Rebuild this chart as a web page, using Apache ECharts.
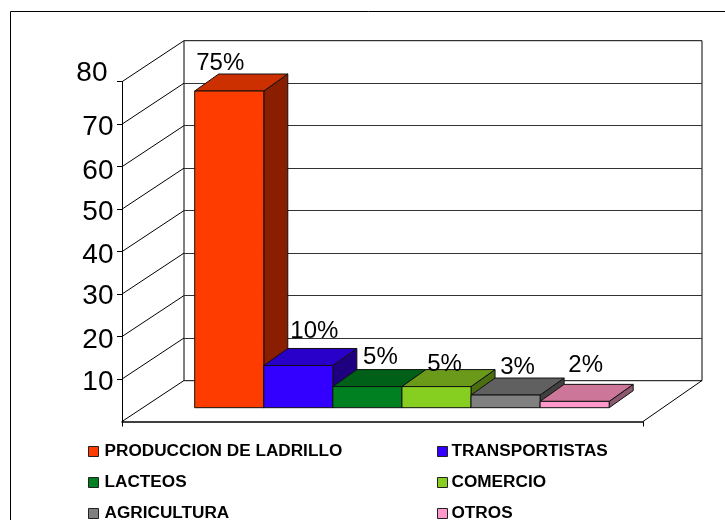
<!DOCTYPE html>
<html><head><meta charset="utf-8">
<style>html,body{margin:0;padding:0;background:#fff}#c{width:725px;height:520px}</style>
<script src="https://cdn.jsdelivr.net/npm/echarts@6/dist/echarts.min.js"></script>
</head><body><div id="c"></div>
<script>
const categories = ['PRODUCCION DE LADRILLO','TRANSPORTISTAS','LACTEOS','COMERCIO','AGRICULTURA','OTROS'];
const values = [75,10,5,5,3,1.5];
const valueLabels = ['75%','10%','5%','5%','3%','2%'];
const yTicks = [0,10,20,30,40,50,60,70,80];
const faceColors = ['#FF3C00','#3300FF','#008020','#86CE20','#808080','#FF99CC'];
const topColors = ['#CC3000','#2900C9','#006018','#6B9A1A','#606060','#CC7799'];
const sideColors = ['#8A1E00','#1F0080','#004010','#4A6E10','#404040','#8B5A70'];
// small per-label shifts of the value labels relative to the bar top
const nudge = [[-9,-28],[16,-34],[13,-29],[8,-22],[12,-28],[11,-36]];
// per-tick shift of axis labels (bottom padding lifts, top padding lowers)
const tickShift = {80:8,70:-3.5,60:-4.5,50:-3.5,40:-4,30:-2.5,20:-4,10:-3.5};

const WALL = [62,-41], BAR = [24,-17];
const FONT = '"Liberation Sans", Arial, sans-serif';

const barSeries = categories.map((name,i)=>({
  type:'custom', name, xAxisIndex:2, yAxisIndex:2, coordinateSystem:'cartesian2d', z:5,
  itemStyle:{color:faceColors[i]},
  data:[[i,values[i]]],
  renderItem:(p,api)=>{
    const top=api.coord([i,values[i]]), base=api.coord([i,0]), w=api.size([1,0])[0];
    const x0=top[0]-w/2, x1=top[0]+w/2, y0=top[1], y1=base[1];
    const st=c=>({fill:c,stroke:'#111',lineWidth:1});
    const poly=(pts,c)=>({type:'polygon',shape:{points:pts},style:st(c)});
    return {type:'group',children:[
      poly([[x1,y0],[x1+BAR[0],y0+BAR[1]],[x1+BAR[0],y1+BAR[1]],[x1,y1]],sideColors[i]),
      poly([[x0,y0],[x0+BAR[0],y0+BAR[1]],[x1+BAR[0],y0+BAR[1]],[x1,y0]],topColors[i]),
      poly([[x0,y0],[x1,y0],[x1,y1],[x0,y1]],faceColors[i]),
      {type:'text',x:top[0]+nudge[i][0],y:y0+nudge[i][1],
       style:{text:valueLabels[i],font:'24px '+FONT,fill:'#000',align:'center',verticalAlign:'middle'}}
    ]};
  }
}));

const wallSeries = {
  type:'custom', xAxisIndex:0, yAxisIndex:0, z:2, silent:true,
  data:yTicks.map(v=>[0,v]),
  renderItem:(p,api)=>{
    const a=api.coord([0,api.value(1)]);
    return {type:'line',shape:{x1:a[0],y1:a[1],x2:a[0]+WALL[0],y2:a[1]+WALL[1]},style:{stroke:'#000',lineWidth:1}};
  }
};
const floorEdge = {
  type:'custom', xAxisIndex:0, yAxisIndex:0, z:2, silent:true,
  data:[[1,0]],
  renderItem:(p,api)=>{
    const a=api.coord([1,0]);
    return {type:'line',shape:{x1:a[0],y1:a[1],x2:a[0]+WALL[0]-3,y2:a[1]+WALL[1]},style:{stroke:'#000',lineWidth:1}};
  }
};

const legendBase = {
  orient:'vertical', itemWidth:10, itemHeight:10, itemGap:14, icon:'rect', height:200,
  itemStyle:{borderColor:'#222',borderWidth:1}
};
const legendText = pad => ({fontFamily:FONT,fontWeight:'bold',fontSize:17.2,color:'#000',padding:[0,0,0,pad]});

const option = {
  animation:false, backgroundColor:'#fff',
  grid:[
    {left:122,width:521,top:81.7,height:339.8},
    {left:184,width:518,top:40.7,height:340,show:true,borderColor:'#000',borderWidth:1,backgroundColor:'transparent'},
    {left:194.7,width:414.5,top:69.9,height:337.8}
  ],
  xAxis:[
    {gridIndex:0,type:'value',min:0,max:1,interval:1,axisLabel:{show:false},splitLine:{show:false},
     axisLine:{show:true,lineStyle:{color:'#000',width:1.5}},axisTick:{show:true,length:5,lineStyle:{color:'#000'}}},
    {gridIndex:1,type:'value',min:0,max:1,show:false},
    {gridIndex:2,type:'category',data:categories,show:false}
  ],
  yAxis:[
    {gridIndex:0,type:'value',min:0,max:80,interval:10,splitLine:{show:false},
     axisLine:{show:true,lineStyle:{color:'#000'}},axisTick:{show:true,length:5,lineStyle:{color:'#000'}},
     axisLabel:{showMinLabel:false,margin:8.5,
       formatter:v=>`{t${v}|${v}}`,
       rich:Object.fromEntries(Object.entries(tickShift).map(([k,s])=>['t'+k,{
         fontFamily:FONT,fontSize:28,color:'#000',
         padding:[s<0?-2*s:0,k==='80'?6:0,s>0?2*s:0,0]}]))}},
    {gridIndex:1,type:'value',min:0,max:80,interval:10,axisLine:{show:false},axisTick:{show:false},axisLabel:{show:false},
     splitLine:{show:true,lineStyle:{color:'#333',width:1}}},
    {gridIndex:2,type:'value',min:0,max:80,show:false}
  ],
  legend:[
    Object.assign({},legendBase,{left:83,top:438,textStyle:legendText(1),data:[categories[0],categories[2],categories[4]]}),
    Object.assign({},legendBase,{left:432,top:438,textStyle:legendText(-1),data:[categories[1],categories[3],categories[5]]})
  ],
  graphic:[{type:'rect',shape:{x:10.5,y:11.5,width:800,height:600},style:{fill:'none',stroke:'#000',lineWidth:1},silent:true}],
  series:[wallSeries,floorEdge,...barSeries]
};
echarts.init(document.getElementById('c'),null,{renderer:'canvas'}).setOption(option);
</script></body></html>
